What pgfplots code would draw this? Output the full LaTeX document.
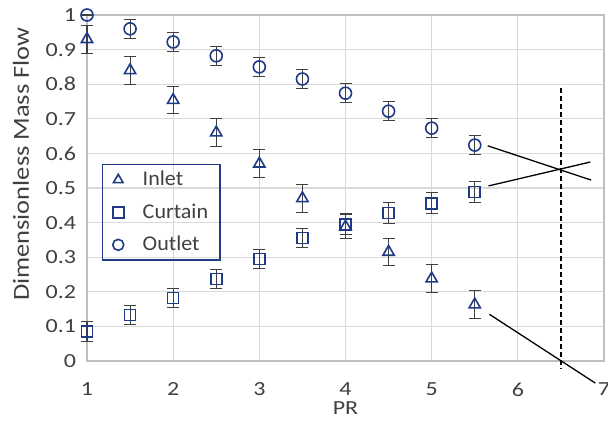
\documentclass[border=0pt]{standalone}
\usepackage{fontspec}
\setmainfont{Carlito}
\newfontfamily\wideA{Carlito}[FakeStretch=1.2]
\newfontfamily\wideB{Carlito}[FakeStretch=1.05]
\newfontfamily\wideC{Carlito}[FakeStretch=1.15]
\usepackage{pgfplots}
\pgfplotsset{compat=1.18}
\definecolor{mk}{HTML}{1F3A86}
\definecolor{txt}{HTML}{404040}
\definecolor{eb}{HTML}{404040}
\begin{document}
\fontsize{20pt}{24pt}\selectfont
\begin{tikzpicture}
\path[use as bounding box] (0,0) rectangle (608pt,441pt);
\begin{axis}[
  at={(87pt,80pt)}, anchor=south west,
  scale only axis, width=517pt, height=346pt,
  xmin=1, xmax=7, ymin=0, ymax=1,
  xtick={1,2,3,4,5,6,7},
  ytick={0,0.1,0.2,0.3,0.4,0.5,0.6,0.7,0.8,0.9,1},
  /pgf/number format/assume math mode=true,
  ticklabel style={font=\wideA\fontsize{20pt}{24pt}\selectfont, text=txt},
  xticklabel style={yshift=-15pt},
  yticklabel style={xshift=-4pt},
  major tick length=0pt,
  grid=major, grid style={gray!30, line width=1.2pt},
  axis line style={gray!50, line width=1.2pt},
  xlabel={PR}, ylabel={Dimensionless Mass Flow},
  xlabel style={font=\wideA\fontsize{20pt}{24pt}\selectfont, text=txt, at={(axis description cs:0.5,-0.136)}, anchor=center},
  ylabel style={font=\wideC\fontsize{23pt}{27pt}\selectfont, text=txt, at={(axis description cs:-0.1277,0.569)}, anchor=center},
  clip=false,
  legend style={at={(0.029,0.57)}, anchor=north west, draw=mk, line width=1.5pt,
    fill=none, font=\wideB\fontsize{21pt}{25pt}\selectfont, text=txt,
    row sep=11pt, column sep=17pt, inner xsep=10pt, inner ysep=4.5pt},
  legend cell align=left,
  legend image post style={mark size=5.5pt},
  error bars/error bar style={eb, line width=1.1pt},
  error bars/error mark options={rotate=90, eb, mark size=6pt, line width=1.1pt},
]
\addplot[only marks, mark=triangle, mark size=6.5pt, mark options={mk, line width=1.6pt},
  error bars/.cd, y dir=both, y explicit]
  table[x=x, y=y, y error=e] {
x y e
1 0.930 0.040
1.5 0.840 0.040
2 0.754 0.040
2.5 0.660 0.040
3 0.570 0.040
3.5 0.470 0.040
4 0.388 0.035
4.5 0.315 0.040
5 0.238 0.040
5.5 0.163 0.040
};
\addlegendentry{Inlet}
\addplot[only marks, mark=square, mark size=5.5pt, mark options={mk, line width=1.6pt},
  error bars/.cd, y dir=both, y explicit]
  table[x=x, y=y, y error=e] {
x y e
1 0.085 0.028
1.5 0.133 0.028
2 0.182 0.028
2.5 0.237 0.028
3 0.295 0.028
3.5 0.355 0.028
4 0.395 0.030
4.5 0.428 0.030
5 0.456 0.030
5.5 0.489 0.030
};
\addlegendentry{Curtain\hspace{5pt}}
\addplot[only marks, mark=o, mark size=6pt, mark options={mk, line width=1.6pt},
  error bars/.cd, y dir=both, y explicit]
  table[x=x, y=y, y error=e] {
x y e
1 1.000 0.000
1.5 0.960 0.028
2 0.922 0.028
2.5 0.882 0.028
3 0.850 0.028
3.5 0.815 0.028
4 0.774 0.028
4.5 0.722 0.028
5 0.673 0.028
5.5 0.624 0.028
};
\addlegendentry{Outlet}
\addplot[black, line width=1.3pt, forget plot] coordinates {(5.65,0.622) (6.85,0.523)};
\addplot[black, line width=1.3pt, forget plot] coordinates {(5.66,0.506) (6.84,0.575)};
\addplot[black, line width=1.3pt, forget plot] coordinates {(5.67,0.135) (6.9,-0.064)};
\addplot[black, line width=1.3pt, dashed, dash pattern=on 5pt off 3pt, forget plot] coordinates {(6.5,0.79) (6.5,-0.02)};
\end{axis}
\end{tikzpicture}
\end{document}
